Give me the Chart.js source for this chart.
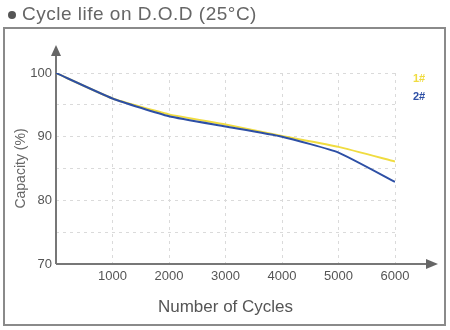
<!DOCTYPE html>
<html>
<head>
<meta charset="utf-8">
<script src="https://cdn.jsdelivr.net/npm/chart.js@4"></script>
<style>
  html, body { margin: 0; padding: 0; background: #fff; }
  #wrap { width: 450px; height: 330px; }
</style>
</head>
<body>
<div id="wrap"><canvas id="chart" width="450" height="330"></canvas></div>
<script>
// values
const cycles = [0, 1000, 2000, 3000, 4000, 5000, 6000];
const cap1 = [100, 96, 93.5, 91.9, 90.1, 88.4, 86.1];
const cap2 = [100, 96, 93.2, 91.6, 90.0, 87.5, 82.9];
const seriesNames = ["1#", "2#"];
const seriesColors = ["#f0dc40", "#2d4fa5"];
const xTicks = [1000, 2000, 3000, 4000, 5000, 6000];
const yTicks = [70, 75, 80, 85, 90, 95, 100];

const font = "'Liberation Sans', Arial, sans-serif";

// frame, heading, axis arrows and the little legend
const extras = {
  id: "extras",
  beforeDraw(chart) {
    const ctx = chart.ctx;
    ctx.save();
    ctx.strokeStyle = "#8a8a8a";
    ctx.lineWidth = 2;
    ctx.strokeRect(4, 28, 441, 297);
    ctx.fillStyle = "#555";
    ctx.beginPath();
    ctx.arc(12, 15, 4, 0, Math.PI * 2);
    ctx.fill();
    ctx.fillStyle = "#666";
    ctx.font = "19px " + font;
    ctx.letterSpacing = "0.5px";
    ctx.textBaseline = "middle";
    ctx.fillText("Cycle life on D.O.D (25°C)", 22, 15);
    ctx.restore();
  },
  beforeDatasetsDraw(chart) {
    const ctx = chart.ctx;
    const a = chart.chartArea;
    ctx.save();
    ctx.strokeStyle = "#777";
    ctx.fillStyle = "#666";
    ctx.lineWidth = 2;
    ctx.beginPath();
    ctx.moveTo(a.left, a.bottom);
    ctx.lineTo(a.left, 54);
    ctx.moveTo(a.left, a.bottom);
    ctx.lineTo(428, a.bottom);
    ctx.stroke();
    ctx.beginPath();
    ctx.moveTo(a.left, 45);
    ctx.lineTo(a.left - 5, 56);
    ctx.lineTo(a.left + 5, 56);
    ctx.closePath();
    ctx.fill();
    ctx.beginPath();
    ctx.moveTo(438, a.bottom);
    ctx.lineTo(426, a.bottom - 5);
    ctx.lineTo(426, a.bottom + 5);
    ctx.closePath();
    ctx.fill();
    ctx.restore();
  },
  afterDraw(chart) {
    const ctx = chart.ctx;
    ctx.save();
    ctx.font = "bold 11px " + font;
    ctx.textAlign = "center";
    ctx.textBaseline = "middle";
    chart.data.datasets.forEach((ds, i) => {
      ctx.fillStyle = ds.borderColor;
      ctx.fillText(ds.label, 419, 79 + i * 18);
    });
    ctx.restore();
  }
};

new Chart(document.getElementById("chart"), {
  type: "line",
  data: {
    datasets: [
      {
        label: seriesNames[0],
        data: cycles.map((c, i) => ({ x: c, y: cap1[i] })),
        borderColor: seriesColors[0],
        borderWidth: 2,
        pointRadius: 0,
        tension: 0.15,
        order: 1
      },
      {
        label: seriesNames[1],
        data: cycles.map((c, i) => ({ x: c, y: cap2[i] })),
        borderColor: seriesColors[1],
        borderWidth: 2,
        pointRadius: 0,
        tension: 0.15,
        order: 0
      }
    ]
  },
  options: {
    responsive: false,
    animation: false,
    layout: { padding: { top: 73, right: 55, left: 0, bottom: 0 } },
    plugins: { legend: { display: false }, tooltip: { enabled: false } },
    scales: {
      x: {
        type: "linear",
        min: 0,
        max: 6000,
        afterBuildTicks: s => { s.ticks = xTicks.map(v => ({ value: v })); },
        afterFit: s => { s.height = 66; },
        border: { display: false, dash: [3, 4] },
        grid: { color: "#dadada", drawTicks: false },
        ticks: {
          color: "#555",
          font: { family: font, size: 13 },
          padding: 5,
          maxRotation: 0,
          callback: v => String(v)
        },
        title: {
          display: true,
          text: "Number of Cycles",
          color: "#555",
          font: { family: font, size: 17 },
          padding: { top: 0, bottom: 12 }
        }
      },
      y: {
        min: 70,
        max: 100,
        afterBuildTicks: s => { s.ticks = yTicks.map(v => ({ value: v })); },
        afterFit: s => { s.width = 56; },
        border: { display: false, dash: [3, 4] },
        grid: { color: "#dadada", drawTicks: false },
        ticks: {
          color: "#555",
          font: { family: font, size: 13 },
          padding: 4,
          callback: v => (v % 10 === 0 ? String(v) : "")
        },
        title: {
          display: true,
          text: "Capacity (%)",
          color: "#666",
          font: { family: font, size: 14 },
          padding: { top: 13, bottom: 0 }
        }
      }
    }
  },
  plugins: [extras]
});
</script>
</body>
</html>
